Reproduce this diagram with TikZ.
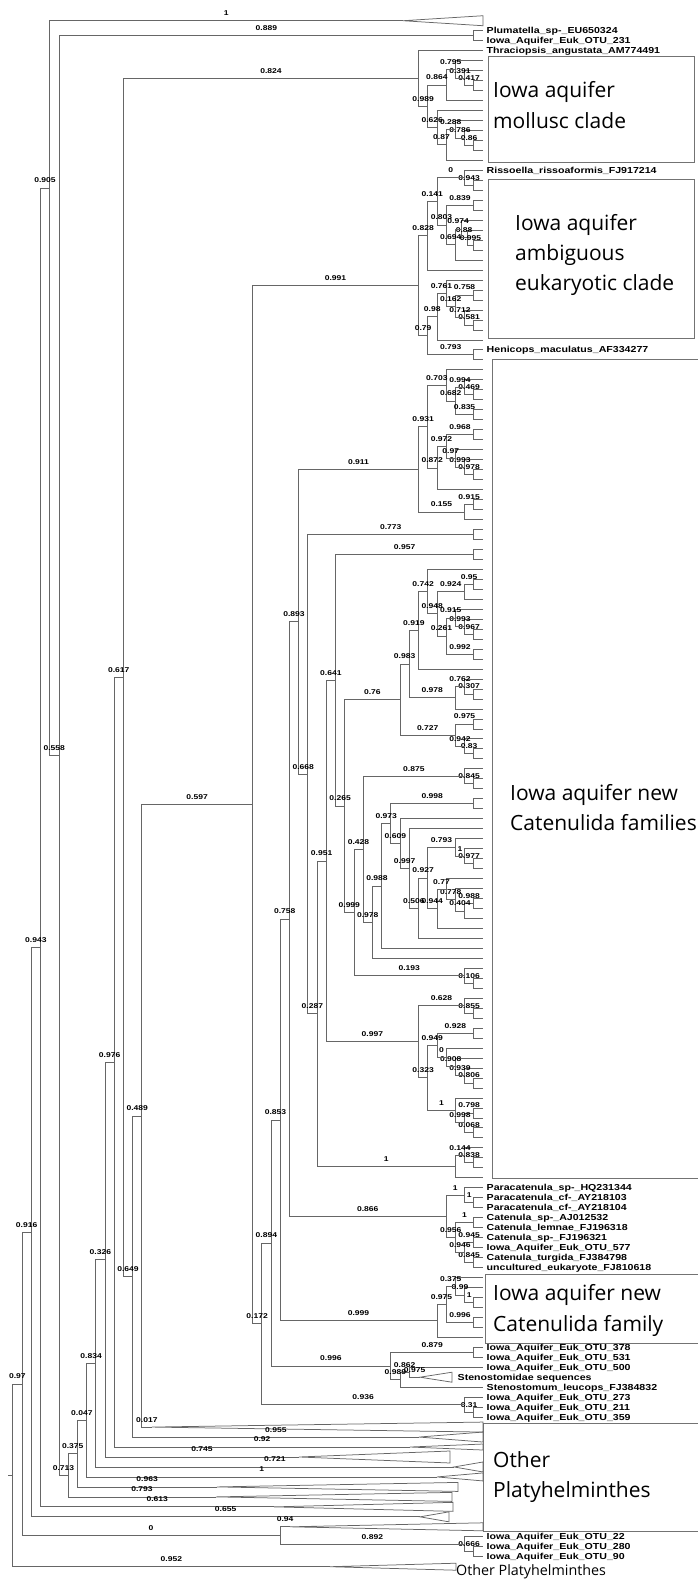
\documentclass[tikz,border=0pt]{standalone}
\usepackage{fontspec}
\setmainfont{Liberation Sans}
\newfontfamily\taxfont[FakeStretch=1.22]{Liberation Sans}
\newfontfamily\cladefont{Open Sans}
\usetikzlibrary{calc}

% one clade: name, level, first child, its label, second child, its label
\newcommand\clade[6]{%
  \path let \p1 = (#3), \p2 = (#5) in
    coordinate (#1) at ({(483-9.22*(#2))*1pt}, {0.5*(\y1)+0.5*(\y2)});
  \draw[branch] (#1) |- node[sup] {#4} (#3);
  \draw[branch] (#1) |- node[sup] {#6} (#5);
}
% the same, with the node's row given: name, level, y, children and labels
\newcommand\cladeat[7]{%
  \coordinate (#1) at ({483-9.22*(#2)}, #3);
  \draw[branch] (#1) |- node[sup] {#5} (#4);
  \draw[branch] (#1) |- node[sup] {#7} (#6);
}
% collapsed clade: name, row, apex x, base x, half height
\newcommand\collapsed[5]{%
  \coordinate (#1) at (#3, {30.7+9.974*(#2)});
  \draw[branch] (#1) -- (#4, {30.7+9.974*(#2)-#5}) -- (#4, {30.7+9.974*(#2)+#5}) -- cycle;
}

\begin{document}
\begin{tikzpicture}[
    x=1pt, y=-1pt,
    branch/.style={draw=black!60, line width=0.75pt},
    box/.style={draw=black!55, line width=0.8pt},
    sup/.style={font=\taxfont\bfseries\fontsize{7}{7}\selectfont, inner sep=0pt, anchor=south, yshift=4.6pt, pos=0.75},
    taxon/.style={font=\taxfont\bfseries\fontsize{8.7}{8.7}\selectfont, anchor=base west, inner sep=0pt, xshift=3.5pt, yshift=-3pt},
    big/.style={font=\cladefont\fontsize{21}{21}\selectfont, anchor=base west, inner sep=0pt}
]
    \useasboundingbox (0,0) rectangle (698,1579);

    % tips, one row each
    \foreach \k in {-1,...,154} {\coordinate (k\k) at (483, {30.7+9.974*\k});}

    % Boxes round the clades
    \draw[box] (488,56) rectangle (694,162);
    \draw[box] (488,179) rectangle (694,338);
    \draw[box] (492,359) rectangle (712,1178);
    \draw[box] (485,1274) rectangle (712,1343);
    \draw[box] (483,1423) rectangle (712,1531);

    \node[big] (mol1) at (493,97) {Iowa aquifer};
    \node[big] (mol2) at (493,128) {mollusc clade};
    \node[big] (amb1) at (515,230) {Iowa aquifer};
    \node[big] (amb2) at (515,260) {ambiguous};
    \node[big] (amb3) at (515,290) {eukaryotic clade};
    \node[big] (cat1) at (510,800) {Iowa aquifer new};
    \node[big] (cat2) at (510,830) {Catenulida families};
    \node[big] (fam1) at (493,1300) {Iowa aquifer new};
    \node[big] (fam2) at (493,1331) {Catenulida family};
    \node[big] (oth1) at (493,1467) {Other};
    \node[big] (oth2) at (493,1497) {Platyhelminthes};

    % Top
    \collapsed{topc}{-1}{403}{483}{5}
    \clade{plum}{1}{k0}{}{k1}{}

    % Mollusc clade
    \clade{m417}{1}{k5}{}{k6}{}
    \clade{m391}{2}{k4}{}{m417}{0.417}
    \clade{m795}{3}{k3}{}{m391}{0.391}
    \clade{m864}{4}{m795}{0.795}{k7}{}
    \clade{m86}{1}{k11}{}{k12}{}
    \clade{m786}{2}{k10}{}{m86}{0.86}
    \clade{m288}{3}{k9}{}{m786}{0.786}
    \clade{m87}{4}{m288}{0.288}{k13}{}
    \clade{m626}{5}{k8}{}{m87}{0.87}
    \clade{m989}{6}{m864}{0.864}{m626}{0.626}
    \clade{m824}{7}{k2}{}{m989}{0.989}

    % Ambiguous eukaryotic clade
    \clade{a943}{1}{k15}{}{k16}{}
    \clade{a0}{2}{k14}{}{a943}{0.943}
    \clade{a839}{1}{k17}{}{k18}{}
    \clade{a995}{1}{k21}{}{k22}{}
    \clade{a88}{1.7}{k20}{}{a995}{0.995}
    \clade{a974}{2.4}{k19}{}{a88}{0.88}
    \clade{a694}{3}{a974}{0.974}{k23}{}
    \clade{a803}{4}{a839}{0.839}{a694}{0.694}
    \clade{a141}{5}{a0}{0}{a803}{0.803}
    \clade{a828}{6}{a141}{0.141}{k24}{}
    \clade{a758}{1}{k26}{}{k27}{}
    \clade{a581}{1}{k29}{}{k30}{}
    \clade{a712}{2}{k28}{}{a581}{0.581}
    \clade{a162}{3}{a758}{0.758}{a712}{0.712}
    \clade{a761}{4}{k25}{}{a162}{0.162}
    \clade{a98}{5}{a761}{0.761}{k31}{}
    \clade{hen}{1}{k32}{}{k33}{}
    \clade{a79}{6}{a98}{0.98}{hen}{0.793}
    \clade{a991}{7}{a828}{0.828}{a79}{0.79}

    % Catenulida families
    \clade{c469}{1}{k36}{}{k37}{}
    \clade{c994}{2}{k35}{}{c469}{0.469}
    \clade{c835}{1}{k38}{}{k39}{}
    \clade{c682}{3}{c994}{0.994}{c835}{0.835}
    \clade{c703}{4}{k34}{}{c682}{0.682}
    \clade{c968}{1}{k40}{}{k41}{}
    \clade{c978a}{1}{k44}{}{k45}{}
    \clade{c993a}{2}{k43}{}{c978a}{0.978}
    \clade{c97}{3}{k42}{}{c993a}{0.993}
    \clade{c972}{4}{c968}{0.968}{c97}{0.97}
    \clade{c872}{5}{c972}{0.972}{k46}{}
    \clade{c931}{6}{c703}{0.703}{c872}{0.872}
    \clade{c915a}{1}{k47}{}{k48}{}
    \clade{c155}{2}{c915a}{0.915}{k49}{}
    \clade{c911}{7}{c931}{0.931}{c155}{0.155}
    \clade{c773}{1}{k50}{}{k51}{}
    \clade{c957}{1}{k52}{}{k53}{}
    \clade{c95}{1}{k55}{}{k56}{}
    \clade{c924}{2}{c95}{0.95}{k57}{}
    \clade{c967}{1}{k60}{}{k61}{}
    \clade{c993b}{2}{k59}{}{c967}{0.967}
    \clade{c915b}{3}{k58}{}{c993b}{0.993}
    \clade{c992}{1}{k62}{}{k63}{}
    \clade{c261}{4}{c915b}{0.915}{c992}{0.992}
    \clade{c948}{5}{c924}{0.924}{c261}{0.261}
    \clade{c742}{6}{k54}{}{c948}{0.948}
    \clade{c919}{7}{c742}{0.742}{k64}{}
    \clade{c307}{1}{k66}{}{k67}{}
    \clade{c762}{2}{k65}{}{c307}{0.307}
    \clade{c978b}{3}{c762}{0.762}{k68}{}
    \clade{c983}{8}{c919}{0.919}{c978b}{0.978}
    \clade{c975a}{1}{k69}{}{k70}{}
    \clade{c83}{1}{k72}{}{k73}{}
    \clade{c942}{2}{k71}{}{c83}{0.83}
    \clade{c727}{3}{c975a}{0.975}{c942}{0.942}
    \clade{c760}{9}{c983}{0.983}{c727}{0.727}
    \clade{c845a}{1}{k75}{}{k76}{}
    \clade{c875}{2}{k74}{}{c845a}{0.845}
    \clade{c998a}{1}{k77}{}{k78}{}
    \clade{c977}{1}{k83}{}{k84}{}
    \clade{c1a}{2}{k82}{}{c977}{0.977}
    \clade{c793}{3}{k81}{}{c1a}{1}
    \clade{c988a}{1}{k87}{}{k88}{}
    \clade{c404}{2}{c988a}{0.988}{k89}{}
    \clade{c778}{3}{k86}{}{c404}{0.404}
    \clade{c77}{4}{k85}{}{c778}{0.778}
    \clade{c944}{5}{c77}{0.77}{k90}{}
    \clade{c927}{6}{c793}{0.793}{c944}{0.944}
    \clade{c506}{7}{c927}{0.927}{k91}{}
    \clade{c997a}{8}{k80}{}{c506}{0.506}
    \clade{c609}{9}{k79}{}{c997a}{0.997}
    \clade{c973}{10}{c998a}{0.998}{c609}{0.609}
    \clade{c988b}{11}{c973}{0.973}{k92}{}
    \clade{c978c}{12}{c988b}{0.988}{k93}{}
    \clade{c428}{13}{c875}{0.875}{c978c}{0.978}
    \clade{c106}{1}{k95}{}{k96}{}
    \clade{c193}{2}{k94}{}{c106}{0.106}
    \clade{c999}{14}{c428}{0.428}{c193}{0.193}
    \clade{c265}{15}{c760}{0.76}{c999}{0.999}
    \clade{c641}{16}{c957}{0.957}{c265}{0.265}
    \clade{c855}{1}{k98}{}{k99}{}
    \clade{c628}{2}{k97}{}{c855}{0.855}
    \clade{c928}{1}{k100}{}{k101}{}
    \clade{c806}{1}{k105}{}{k106}{}
    \clade{c939}{2}{k104}{}{c806}{0.806}
    \clade{c908}{3}{k103}{}{c939}{0.939}
    \clade{c0}{4}{k102}{}{c908}{0.908}
    \clade{c949}{5}{c928}{0.928}{c0}{0}
    \clade{c798}{1}{k108}{}{k109}{}
    \clade{c068}{1}{k110}{}{k111}{}
    \clade{c998b}{2}{c798}{0.798}{c068}{0.068}
    \clade{c1b}{3}{k107}{}{c998b}{0.998}
    \clade{c323}{6}{c949}{0.949}{c1b}{1}
    \clade{c997b}{7}{c628}{0.628}{c323}{0.323}
    \clade{c951}{17}{c641}{0.641}{c997b}{0.997}
    \clade{c838}{1}{k113}{}{k114}{}
    \clade{c144}{2}{k112}{}{c838}{0.838}
    \clade{c1c}{3}{c144}{0.144}{k115}{}
    \clade{c287}{18}{c951}{0.951}{c1c}{1}
    \clade{c668}{19}{c773}{0.773}{c287}{0.287}
    \clade{c893}{20}{c911}{0.911}{c668}{0.668}

    % Catenula and Paracatenula
    \clade{pcf}{1}{k117}{}{k118}{}
    \clade{psp}{2}{k116}{}{pcf}{1}
    \clade{cat}{1}{k119}{}{k120}{}
    \clade{c945}{1}{k121}{}{k122}{}
    \clade{c845b}{1}{k123}{}{k124}{}
    \clade{c946}{2}{c945}{0.945}{c845b}{0.845}
    \clade{c956}{3}{cat}{1}{c946}{0.946}
    \clade{c866}{4}{psp}{1}{c956}{0.956}
    \clade{c758}{21}{c893}{0.893}{c866}{0.866}

    % new Catenulida family
    \clade{f1}{1}{k127}{}{k128}{}
    \clade{f99}{2}{k126}{}{f1}{1}
    \clade{f375}{3}{k125}{}{f99}{0.99}
    \clade{f996}{1}{k129}{}{k130}{}
    \clade{f975}{4}{f375}{0.375}{f996}{0.996}
    \clade{f999}{5}{f975}{0.975}{k131}{}
    \clade{c853}{22}{c758}{0.758}{f999}{0.999}

    % Stenostomidae
    \clade{s879}{1}{k132}{}{k133}{}
    \collapsed{steno}{135}{420}{452}{5}
    \clade{s862}{8}{k134}{}{steno}{0.975}
    \clade{s989}{9}{s862}{0.862}{k136}{}
    \clade{s996}{10}{s879}{0.879}{s989}{0.989}
    \clade{c894}{23}{c853}{0.853}{s996}{0.996}
    \clade{o31}{1}{k138}{}{k139}{}
    \clade{o936}{2}{k137}{}{o31}{0.31}
    \clade{c172}{24}{c894}{0.894}{o936}{0.936}
    \clade{c597}{25}{a991}{0.991}{c172}{0.172}

    % Other Platyhelminthes, collapsed
    \collapsed{b140}{140}{152}{483}{5}
    \collapsed{b141}{141}{419}{483}{5}
    \collapsed{b142}{142}{410}{483}{3}
    \collapsed{b143}{143}{299}{450}{6}
    \collapsed{b144}{144}{454}{483}{5}
    \collapsed{b145}{145}{437}{483}{4}
    \collapsed{b146}{146}{217}{458}{4.5}
    \collapsed{b147}{147}{216}{452}{4.5}
    \collapsed{b148}{148}{274}{453}{4.5}
    \collapsed{b149}{149}{420}{449}{5}
    \collapsed{b150}{150}{290}{483}{4}
    \collapsed{b154}{154}{330}{456}{3.5}

    % Backbone
    \clade{n489}{37}{c597}{0.597}{b140}{0.017}
    \clade{n649}{38}{n489}{0.489}{b141}{0.955}
    \clade{n617}{39}{m824}{0.824}{n649}{0.649}
    \clade{n976}{40}{n617}{0.617}{b142}{0.92}
    \clade{n326}{41}{n976}{0.976}{b143}{0.745}
    \clade{n834}{42}{n326}{0.326}{b144}{0.721}
    \clade{n047}{43}{n834}{0.834}{b145}{1}
    \clade{n375}{44}{n047}{0.047}{b146}{0.963}
    \clade{n713}{45}{n375}{0.375}{b147}{0.793}
    \clade{n558}{46}{plum}{0.889}{n713}{0.713}
    \cladeat{n905}{47}{188}{topc}{1}{n558}{0.558}
    \cladeat{n943}{48}{947.6}{n905}{0.905}{b148}{0.613}
    \clade{n916}{49}{n943}{0.943}{b149}{0.655}
    \clade{o666}{1}{k152}{}{k153}{}
    \clade{o892}{2}{k151}{}{o666}{0.666}
    \clade{n0}{22}{b150}{0.94}{o892}{0.892}
    \clade{n97}{50}{n916}{0.916}{n0}{0}
    \clade{root}{51}{n97}{0.97}{b154}{0.952}
    \draw[branch] (root) -- ++(-5,0);

    % Taxon names
    \node[taxon] (t0) at (k0) {Plumatella\_sp-\_EU650324};
    \node[taxon] (t1) at (k1) {Iowa\_Aquifer\_Euk\_OTU\_231};
    \node[taxon] (t2) at (k2) {Thraciopsis\_angustata\_AM774491};
    \node[taxon] (t14) at (k14) {Rissoella\_rissoaformis\_FJ917214};
    \node[taxon] (t32) at (k32) {Henicops\_maculatus\_AF334277};
    \node[taxon] (t116) at (k116) {Paracatenula\_sp-\_HQ231344};
    \node[taxon] (t117) at (k117) {Paracatenula\_cf-\_AY218103};
    \node[taxon] (t118) at (k118) {Paracatenula\_cf-\_AY218104};
    \node[taxon] (t119) at (k119) {Catenula\_sp-\_AJ012532};
    \node[taxon] (t120) at (k120) {Catenula\_lemnae\_FJ196318};
    \node[taxon] (t121) at (k121) {Catenula\_sp-\_FJ196321};
    \node[taxon] (t122) at (k122) {Iowa\_Aquifer\_Euk\_OTU\_577};
    \node[taxon] (t123) at (k123) {Catenula\_turgida\_FJ384798};
    \node[taxon] (t124) at (k124) {uncultured\_eukaryote\_FJ810618};
    \node[taxon] (t132) at (k132) {Iowa\_Aquifer\_Euk\_OTU\_378};
    \node[taxon] (t133) at (k133) {Iowa\_Aquifer\_Euk\_OTU\_531};
    \node[taxon] (t134) at (k134) {Iowa\_Aquifer\_Euk\_OTU\_500};
    \node[taxon, xshift=-29pt] (t135) at (k135) {Stenostomidae sequences};
    \node[taxon] (t136) at (k136) {Stenostomum\_leucops\_FJ384832};
    \node[taxon] (t137) at (k137) {Iowa\_Aquifer\_Euk\_OTU\_273};
    \node[taxon] (t138) at (k138) {Iowa\_Aquifer\_Euk\_OTU\_211};
    \node[taxon] (t139) at (k139) {Iowa\_Aquifer\_Euk\_OTU\_359};
    \node[taxon] (t151) at (k151) {Iowa\_Aquifer\_Euk\_OTU\_22};
    \node[taxon] (t152) at (k152) {Iowa\_Aquifer\_Euk\_OTU\_280};
    \node[taxon] (t153) at (k153) {Iowa\_Aquifer\_Euk\_OTU\_90};
    \node[big, font=\cladefont\fontsize{14.3}{14.3}\selectfont, xshift=-27pt, yshift=-9pt] (t154) at (k154) {Other Platyhelminthes};
\end{tikzpicture}
\end{document}
